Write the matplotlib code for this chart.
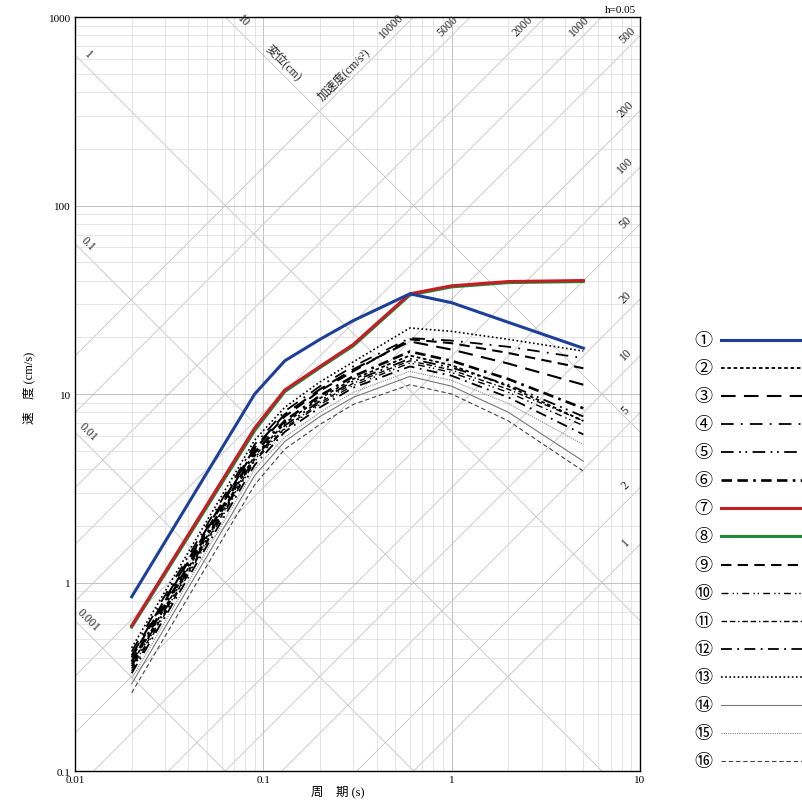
import numpy as np
import matplotlib.pyplot as plt

plt.rcParams['font.family'] = ['Liberation Serif', 'Noto Sans CJK JP', 'DejaVu Sans']

# periods (s) at which the spectra are given
periods = [0.02, 0.09, 0.13, 0.2, 0.3, 0.6, 1.0, 2.0, 5.0]

# pseudo velocity response (cm/s), h=0.05
wave_01 = [0.84, 10.0, 15.0, 19.5, 24.5, 34.0, 30.5, 24.0, 17.5]
wave_02 = [0.37, 4.7, 7.0, 9.5, 12.0, 16.0, 14.2, 11.0, 7.2]
wave_03 = [0.41, 5.2, 7.8, 10.6, 13.5, 19.0, 17.2, 14.5, 11.2]
wave_04 = [0.43, 5.4, 8.1, 11.0, 14.0, 19.8, 19.2, 17.8, 15.5]
wave_05 = [0.36, 4.6, 6.8, 9.2, 11.7, 15.4, 13.8, 11.2, 7.6]
wave_06 = [0.38, 4.9, 7.2, 9.8, 12.4, 16.8, 15.0, 12.0, 8.4]
wave_07 = [0.59, 6.6, 10.5, 14.0, 18.3, 34.0, 37.5, 39.5, 40.0]
wave_08 = [0.58, 6.4, 10.3, 13.8, 18.0, 33.5, 37.0, 39.0, 39.5]
wave_09 = [0.40, 5.1, 7.6, 10.4, 13.2, 19.5, 18.6, 16.5, 13.7]
wave_10 = [0.34, 4.4, 6.5, 8.8, 11.1, 14.6, 13.0, 10.2, 6.8]
wave_11 = [0.35, 4.5, 6.6, 9.0, 11.4, 15.0, 13.4, 10.6, 7.2]
wave_12 = [0.33, 4.2, 6.3, 8.5, 10.8, 14.0, 12.5, 9.6, 6.1]
wave_13 = [0.45, 5.7, 8.5, 11.6, 14.8, 22.4, 21.5, 19.5, 16.9]
wave_14 = [0.29, 3.7, 5.6, 7.6, 9.6, 12.4, 11.0, 8.0, 4.4]
wave_15 = [0.31, 4.0, 5.9, 8.0, 10.2, 13.2, 11.8, 8.9, 5.4]
wave_16 = [0.26, 3.3, 5.1, 6.9, 8.8, 11.2, 10.0, 7.2, 3.9]

legend_labels = ['①', '②', '③', '④', '⑤', '⑥', '⑦', '⑧',
                 '⑨', '⑩', '⑪', '⑫', '⑬', '⑭', '⑮', '⑯']

# diagonal grid: acceleration (cm/s2) and displacement (cm)
accel_levels = [1, 2, 5, 10, 20, 50, 100, 200, 500, 1000, 2000, 5000, 10000]
accel_top = ['10000', '5000', '2000', '1000', '500']
accel_right = ['200', '100', '50', '20', '10', '5', '2', '1']
disp_levels = [0.001, 0.01, 0.1, 1, 10]
disp_left = ['1', '0.1', '0.01', '0.001']

waves = [wave_01, wave_02, wave_03, wave_04, wave_05, wave_06, wave_07, wave_08,
         wave_09, wave_10, wave_11, wave_12, wave_13, wave_14, wave_15, wave_16]

styles = [
    dict(color='#1c3f9a', lw=2.2, ls='-'),
    dict(color='black', lw=1.3, ls=(0, (2, 1.5))),
    dict(color='black', lw=1.5, ls=(0, (7, 4))),
    dict(color='black', lw=1.3, ls=(0, (7, 4, 1, 4))),
    dict(color='black', lw=1.3, ls=(0, (7, 3, 1, 2.5, 1, 3))),
    dict(color='black', lw=1.9, ls=(0, (4, 2, 4, 2, 1, 2))),
    dict(color='#c41e24', lw=2.2, ls='-'),
    dict(color='#1e8a3a', lw=2.2, ls='-'),
    dict(color='black', lw=1.5, ls=(0, (5, 3))),
    dict(color='black', lw=1.0, ls=(0, (5, 3, 1, 2, 1, 3))),
    dict(color='black', lw=1.0, ls=(0, (4, 2, 4, 2, 1, 2))),
    dict(color='black', lw=1.3, ls=(0, (6, 3, 1, 3))),
    dict(color='black', lw=1.2, ls=(0, (1, 1.5))),
    dict(color='#777777', lw=0.8, ls='-'),
    dict(color='#888888', lw=0.8, ls=(0, (1, 1))),
    dict(color='#444444', lw=0.8, ls=(0, (4, 2.5))),
]

fig = plt.figure(figsize=(8.02, 8.04), dpi=100)
ax = fig.add_axes([0.0935, 0.0398, 0.7045, 0.9378])
ax.set_xscale('log')
ax.set_yscale('log')
ax.set_xlim(0.01, 10)
ax.set_ylim(0.1, 1000)

ax.grid(which='major', color='#b8b8b8', lw=0.6)
ax.grid(which='minor', color='#dadada', lw=0.5)
ax.tick_params(which='both', length=0, labelsize=8, pad=3)
ax.set_xticks([0.01, 0.1, 1, 10])
ax.set_xticklabels(['0.01', '0.1', '1', '10'])
ax.set_yticks([0.1, 1, 10, 100, 1000])
ax.set_yticklabels(['0.1', '1', '10', '100', '1000'])
for s in ax.spines.values():
    s.set_linewidth(1.0)

tt = np.geomspace(0.01, 10, 50)
for a in accel_levels:
    ax.plot(tt, a * tt / (2 * np.pi), color='#c4c4c4', lw=0.6, zorder=1)
for d in disp_levels:
    ax.plot(tt, 2 * np.pi * d / tt, color='#c4c4c4', lw=0.6, zorder=1)

# labels on the diagonal grid
lbl = dict(fontsize=8.5, color='#222222', rotation_mode='anchor',
           ha='center', va='bottom', textcoords='offset points')
for lab in accel_top:
    a = float(lab)
    sv = 830.0
    t = 2 * np.pi * sv / a
    if t > 9.3:
        t = 9.3
        sv = a * t / (2 * np.pi)
    ax.annotate(lab, (t, sv), xytext=(-2, 2), rotation=45, **lbl)
for lab in accel_right:
    a = float(lab)
    t = 9.3
    ax.annotate(lab, (t, a * t / (2 * np.pi)), xytext=(-3, 3),
                rotation=45, **lbl)
for lab in disp_left:
    d = float(lab)
    t = 0.0108
    ax.annotate(lab, (t, 2 * np.pi * d / t), xytext=(2, 2),
                rotation=-45, **lbl)
ax.annotate('10', (2 * np.pi * 10 / 880, 880), xytext=(2, 2),
            rotation=-45, **lbl)
ax.annotate('変位(cm)', (0.118, 2 * np.pi * 10 / 0.118), xytext=(2, 2),
            rotation=-45, **lbl)
ax.annotate('加速度(cm/s²)', (0.29, 10000 * 0.29 / (2 * np.pi)), xytext=(-2, 2),
            rotation=45, **lbl)
ax.text(0.965, 1.004, 'h=0.05', transform=ax.transAxes, ha='center',
        va='bottom', fontsize=8)

# response spectra, red over green, blue on top
order = [1, 2, 3, 4, 5, 8, 9, 10, 11, 12, 13, 14, 15, 7, 6, 0]
for i in order:
    ax.plot(periods, waves[i], zorder=3, **styles[i])

ax.set_xlabel('周　期 (s)', fontsize=9, labelpad=2)
ax.xaxis.set_label_coords(0.465, -0.018)
ax.set_ylabel('速　度 (cm/s)', fontsize=9)
ax.yaxis.set_label_coords(-0.07, 0.51)

# line-style key on the right
lax = fig.add_axes([680 / 802, 28 / 804, 122 / 802, 449 / 804])
lax.set_xlim(0, 1)
lax.set_ylim(16.5, 0.5)
lax.axis('off')
for i, lab in enumerate(legend_labels):
    lax.text(0.19, i + 1, lab, ha='center', va='center', fontsize=13,
             family=['Noto Sans CJK JP', 'DejaVu Sans'])
    lax.plot([0.34, 1.0], [i + 1, i + 1], clip_on=False, **styles[i])

fig.savefig('out.png', dpi=100)
